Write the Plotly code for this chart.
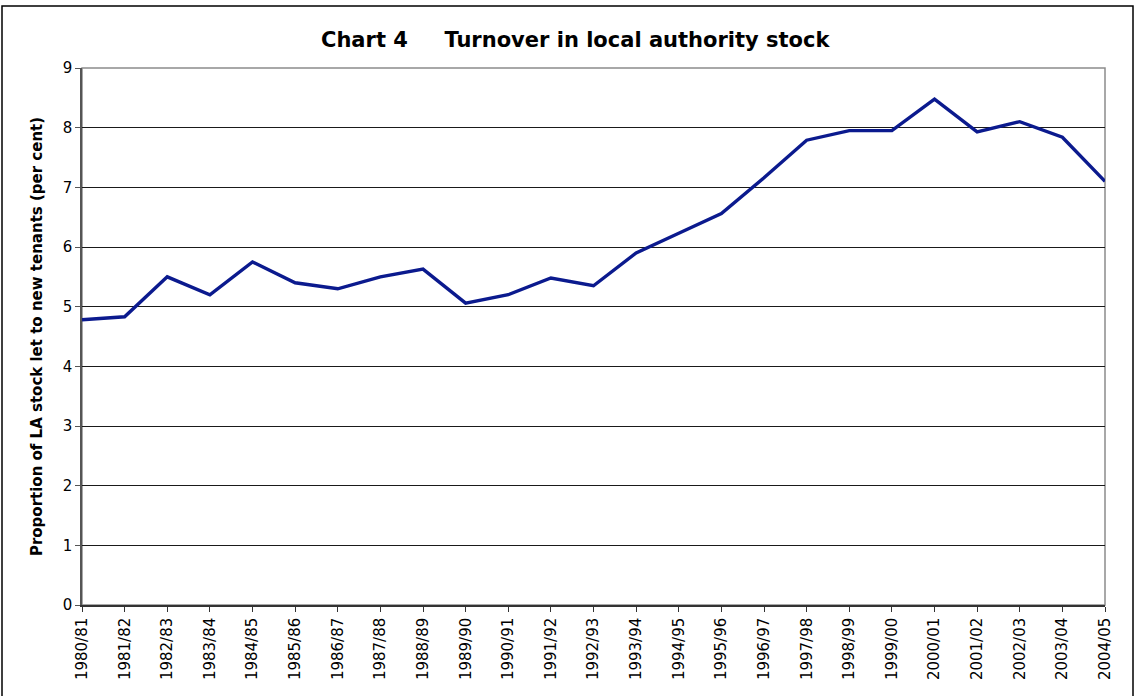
import plotly.graph_objects as go

years = ["1980/81", "1981/82", "1982/83", "1983/84", "1984/85", "1985/86",
         "1986/87", "1987/88", "1988/89", "1989/90", "1990/91", "1991/92",
         "1992/93", "1993/94", "1994/95", "1995/96", "1996/97", "1997/98",
         "1998/99", "1999/00", "2000/01", "2001/02", "2002/03", "2003/04",
         "2004/05"]
turnover = [4.78, 4.83, 5.50, 5.20, 5.75, 5.40, 5.30, 5.50, 5.63, 5.06,
            5.20, 5.48, 5.35, 5.90, 6.23, 6.56, 7.16, 7.79, 7.95, 7.95,
            8.48, 7.93, 8.10, 7.84, 7.10]
y_ticks = [0, 1, 2, 3, 4, 5, 6, 7, 8, 9]

FONT = "DejaVu Sans, Verdana, sans-serif"

fig = go.Figure()
fig.add_trace(go.Scatter(
    x=list(range(len(years))), y=turnover, mode="lines",
    line=dict(color="#0b1a8e", width=3.4), hoverinfo="skip",
))

fig.update_layout(
    width=1135, height=696,
    margin=dict(l=82, r=30, t=68, b=91),
    paper_bgcolor="white", plot_bgcolor="white",
    showlegend=False,
    font=dict(family=FONT, color="black"),
    xaxis=dict(
        range=[0, len(years) - 1],
        tickmode="array", tickvals=list(range(len(years))), ticktext=years,
        tickangle=-90, tickfont=dict(size=15, family=FONT),
        ticks="outside", ticklen=5, tickcolor="#333333",
        showgrid=False, zeroline=False,
        showline=True, linecolor="#333333", linewidth=1.5,
    ),
    yaxis=dict(
        range=[0, 9], tickvals=y_ticks,
        tickfont=dict(size=15, family=FONT),
        ticks="outside", ticklen=5, tickcolor="#555555",
        showgrid=True, gridcolor="#1a1a1a", gridwidth=1,
        zeroline=False,
        showline=True, linecolor="#555555", linewidth=1.5,
        title=dict(text="<b>Proportion of LA stock let to new tenants (per cent)</b>",
                   font=dict(size=15, family=FONT), standoff=16),
    ),
    shapes=[
        # plot-area frame (top and right edges in grey)
        dict(type="rect", xref="paper", yref="paper", x0=0, y0=0, x1=1, y1=1,
             line=dict(color="#8c8c8c", width=1.5), layer="below"),
        # outer chart border, running off the bottom of the page
        dict(type="rect", xref="paper", yref="paper",
             x0=-80 / 1023, y0=-110 / 537, x1=1 + 28 / 1023, y1=1 + 62 / 537,
             line=dict(color="black", width=1.5)),
    ],
    annotations=[
        dict(text="<b>Chart 4&nbsp;&nbsp;&nbsp;&nbsp;&nbsp;Turnover in local authority stock</b>",
             xref="paper", yref="paper", x=(575 - 82) / 1023, y=1 + 28 / 537,
             xanchor="center", yanchor="middle", showarrow=False,
             font=dict(size=21, family=FONT, color="black")),
    ],
)

fig.write_html("out.html")
